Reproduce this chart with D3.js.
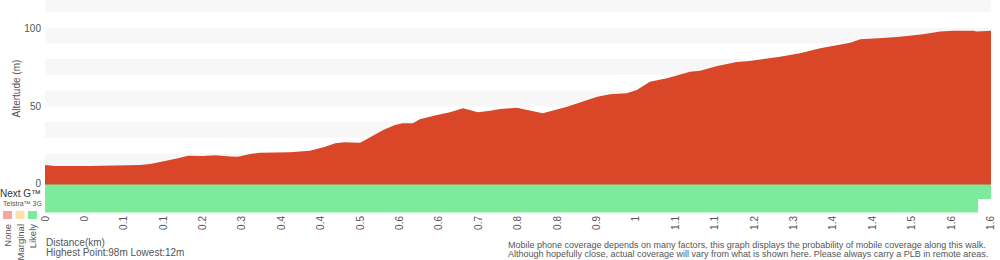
<!DOCTYPE html>
<html>
<head>
<meta charset="utf-8">
<script src="https://cdn.jsdelivr.net/npm/d3@7/dist/d3.min.js"></script>
<style>
  html, body { margin: 0; padding: 0; background: #fff; }
  svg { display: block; font-family: "Liberation Sans", Arial, Helvetica, sans-serif; }
</style>
</head>
<body>
<svg id="chart" width="1000" height="260"></svg>
<script>
// ---- data ----
const distanceKm = [0.000, 0.017, 0.076, 0.161, 0.178, 0.203, 0.225, 0.242, 0.267, 0.288, 0.313, 0.326,
  0.347, 0.364, 0.414, 0.448, 0.474, 0.491, 0.507, 0.533, 0.550, 0.572, 0.592, 0.605, 0.622, 0.634,
  0.651, 0.663, 0.685, 0.707, 0.732, 0.753, 0.770, 0.798, 0.842, 0.883, 0.910, 0.934, 0.956, 0.984,
  1.001, 1.023, 1.052, 1.091, 1.108, 1.137, 1.170, 1.192, 1.243, 1.277, 1.311, 1.362, 1.379, 1.417,
  1.446, 1.485, 1.514, 1.536, 1.570, 1.576, 1.600];
const elevationM = [12.7, 12.0, 12.1, 12.7, 13.3, 15.3, 17.0, 18.6, 18.4, 18.9, 18.1, 18.0,
  19.7, 20.5, 20.8, 21.8, 24.3, 26.5, 27.1, 26.9, 30.3, 35.0, 38.1, 39.2, 39.2, 41.8,
  43.4, 44.5, 46.2, 48.8, 46.2, 47.2, 48.3, 49.1, 45.6, 49.8, 53.0, 56.1, 57.7, 58.3,
  60.4, 65.7, 67.8, 72.0, 72.7, 75.6, 78.2, 78.8, 81.6, 83.7, 86.9, 90.5, 92.6, 93.4,
  94.3, 95.8, 97.5, 98.0, 98.0, 97.5, 98.0];
const xTickLabels = ["0", "0", "0.1", "0.1", "0.2", "0.3", "0.4", "0.4", "0.5", "0.6", "0.6", "0.7",
  "0.8", "0.8", "0.9", "1", "1.1", "1.1", "1.2", "1.3", "1.4", "1.4", "1.5", "1.6", "1.6"];
const yTickValues = [0, 50, 100];
const networks = ["Next G™", "Telstra™ 3G"];
// coverage segments per network: [startKm, endKm, level]
const coverageNextG = [[0, 1.6, "Likely"]];
const coverage3G = [[0, 1.578, "Likely"]];
const legendLevels = ["None", "Marginal", "Likely"];
const highestPoint = 98, lowestPoint = 12, totalKm = 1.6, yMax = 117.6;

// ---- setup ----
const svg = d3.select("#chart");
const textColor = "#555";
const levelColor = d3.scaleOrdinal().domain(legendLevels).range(["#f9a3a3", "#fde1a8", "#7deb9b"]);
const x = d3.scaleLinear().domain([0, totalKm]).range([45, 991]);
const y = d3.scaleLinear().domain([0, yMax]).range([185, 0]);

// background bands
const bandStarts = d3.range(10, yMax, 20);
svg.append("g").selectAll("rect").data(bandStarts).join("rect")
  .attr("x", x(0)).attr("width", x(totalKm) - x(0))
  .attr("y", d => y(Math.min(d + 10, yMax)))
  .attr("height", d => y(d) - y(Math.min(d + 10, yMax)))
  .attr("fill", "#f7f7f7");

// elevation area
const pts = distanceKm.map((d, i) => [d, elevationM[i]]);
svg.append("path").datum(pts)
  .attr("fill", "#d94628")
  .attr("d", d3.area().x(d => x(d[0])).y0(y(0)).y1(d => y(d[1])));

// y ticks
svg.append("g").selectAll("text").data(yTickValues).join("text")
  .attr("x", 41).attr("y", d => y(d) + (d === 0 ? -1.5 : 0.5)).attr("dy", "0.35em")
  .attr("text-anchor", "end")
  .attr("font-size", 10).attr("fill", textColor)
  .text(d => d);

svg.append("text")
  .attr("transform", `translate(20,${y(60) - 2}) rotate(-90)`)
  .attr("text-anchor", "middle")
  .attr("font-size", 10).attr("fill", textColor)
  .text("Altertude (m)");

// coverage rows
const row = d3.scaleBand().domain(networks).range([185, 212]);
const coverage = [coverageNextG, coverage3G];
networks.forEach((n, i) => {
  svg.append("g").selectAll("rect").data(coverage[i]).join("rect")
    .attr("x", d => x(d[0])).attr("width", d => x(d[1]) - x(d[0]))
    .attr("y", row(n) - 0.5).attr("height", row.bandwidth() + 1)
    .attr("fill", d => levelColor(d[2]));
});
svg.append("text").attr("x", 0).attr("y", 197).attr("font-size", 10).attr("fill", "#333").text(networks[0]);
svg.append("text").attr("x", 3).attr("y", 206).attr("font-size", 7).attr("fill", textColor).text(networks[1]);

// legend
const lx = d3.scalePoint().domain(legendLevels).range([7.5, 32.5]);
svg.append("g").selectAll("rect").data(legendLevels).join("rect")
  .attr("x", d => lx(d) - 4.5).attr("y", 211).attr("width", 9).attr("height", 8)
  .attr("fill", d => levelColor(d));
svg.append("g").selectAll("text").data(legendLevels).join("text")
  .attr("transform", d => `translate(${lx(d) + 3.5},224) rotate(-90)`)
  .attr("text-anchor", "end").attr("font-size", 9.5).attr("fill", textColor)
  .text(d => d);

// x tick labels
const xt = d3.scalePoint().domain(d3.range(xTickLabels.length)).range([45, 990.5]);
svg.append("g").selectAll("text").data(xTickLabels).join("text")
  .attr("transform", (d, i) => `translate(${xt(i) + 3.5},216) rotate(-90)`)
  .attr("text-anchor", "end").attr("font-size", 10).attr("fill", textColor)
  .text(d => d);

// footer texts
svg.append("text").attr("x", 46).attr("y", 246).attr("font-size", 10).attr("fill", textColor).text("Distance(km)");
svg.append("text").attr("x", 46).attr("y", 256).attr("font-size", 10).attr("fill", textColor)
  .text(`Highest Point:${highestPoint}m Lowest:${lowestPoint}m`);
svg.append("text").attr("x", 508).attr("y", 247.5).attr("font-size", 9).attr("fill", textColor)
  .text("Mobile phone coverage depends on many factors, this graph displays the probability of mobile coverage along this walk.");
svg.append("text").attr("x", 508).attr("y", 256.5).attr("font-size", 9).attr("fill", textColor)
  .text("Although hopefully close, actual coverage will vary from what is shown here. Please always carry a PLB in remote areas.");
</script>
</body>
</html>
